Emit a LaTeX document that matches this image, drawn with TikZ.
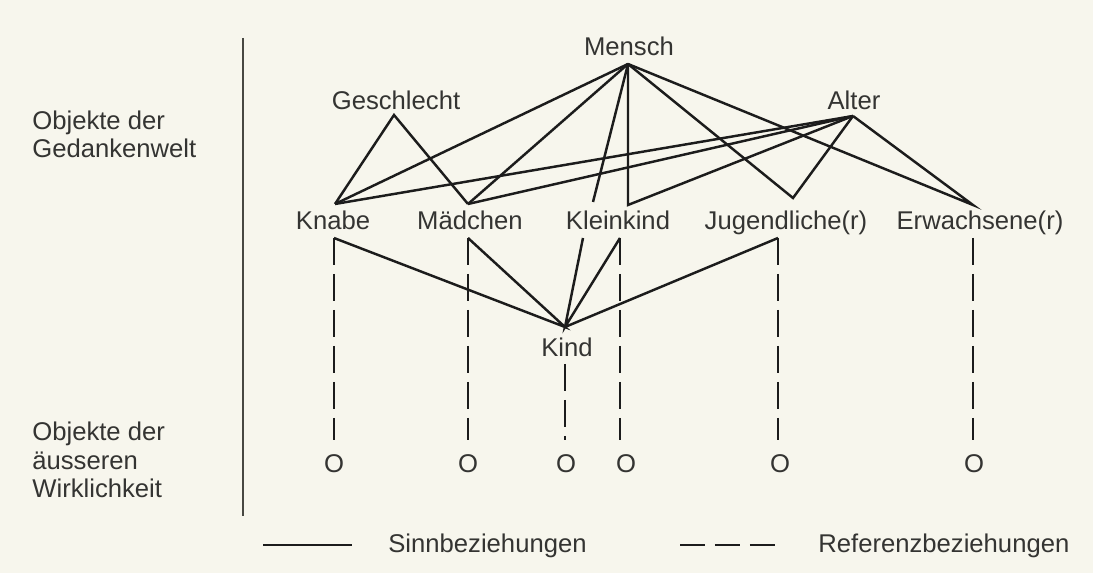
\documentclass[tikz,border=0pt]{standalone}
\usepackage{fontspec}
\setmainfont{Liberation Sans}
\definecolor{bg}{RGB}{247,246,237}
\definecolor{ink}{RGB}{52,52,50}
\definecolor{linec}{RGB}{28,28,28}
\definecolor{axisc}{RGB}{72,72,66}
\begin{document}
\begin{tikzpicture}[x=0.02cm,y=-0.02cm,
  lbl/.style={font=\fontsize{14.6pt}{16.5pt}\selectfont, text=ink, inner sep=0pt, anchor=base},
  side/.style={lbl, anchor=base west, align=left},
  sinn/.style={draw=linec, line width=1.4pt, line join=miter},
  refz/.style={draw=linec, line width=1.4pt, dash pattern=on 0.54cm off 0.18cm},
  axis/.style={draw=axisc, line width=1.2pt}]
\fill[bg] (0,0) rectangle (1093,573);
\useasboundingbox (0,0) rectangle (1093,573);

% left labels and divider (base = baseline of the last line)
\node[side] (gedanken) at (32,158) {Objekte der\\Gedankenwelt};
\node[side] (aussen) at (32,498) {Objekte der\\äusseren\\Wirklichkeit};
\coordinate (axtop) at (243,38);
\coordinate (axbot) at (243,516);
\draw[axis] (axtop) -- (axbot);

% concept labels
\node[lbl] (mensch) at (629,56) {Mensch};
\node[lbl] (geschlecht) at (396,110) {Geschlecht};
\node[lbl] (alter) at (854,110) {Alter};
\node[lbl] (knabe) at (333,230) {Knabe};
\node[lbl] (maedchen) at (470,230) {Mädchen};
\node[lbl] (kleinkind) at (618,230) {Kleinkind};
\node[lbl] (jugend) at (786,230) {Jugendliche(r)};
\node[lbl] (erw) at (980,230) {Erwachsene(r)};
\node[lbl] (kind) at (567,357) {Kind};

% objects
\node[lbl] (o1) at (334,473) {O};
\node[lbl] (o2) at (468,473) {O};
\node[lbl] (o3) at (566,473) {O};
\node[lbl] (o4) at (626,473) {O};
\node[lbl] (o5) at (780,473) {O};
\node[lbl] (o6) at (974,473) {O};

% connection points
\coordinate (M) at (628,64);
\coordinate (G) at (394,115);
\coordinate (A) at (853,116);
\coordinate (Kt) at (335,204);
\coordinate (Kb) at (334,238);
\coordinate (Mt) at (468,204);
\coordinate (Mb) at (468,238);
\coordinate (KKt1) at (593,202);
\coordinate (KKt2) at (628,205);
\coordinate (KKb1) at (583,238);
\coordinate (KKb2) at (620,238);
\coordinate (Jt) at (793,198);
\coordinate (Jb) at (778,238);
\coordinate (Et) at (973,205);
\coordinate (Eb) at (973,238);
\coordinate (Ki) at (565,327);
\coordinate (Kib) at (565,364);
\coordinate (r1) at (334,440);
\coordinate (r2) at (468,440);
\coordinate (r3) at (565,440);
\coordinate (r4) at (620,440);
\coordinate (r5) at (778,440);
\coordinate (r6) at (973,440);

% Sinnbeziehungen
\draw[sinn] (Kt) -- (G) -- (Mt);
\draw[sinn] (M) -- (Kt);
\draw[sinn] (M) -- (Mt);
\draw[sinn] (M) -- (KKt1);
\draw[sinn] (M) -- (KKt2) -- (A);
\draw[sinn] (M) -- (Jt) -- (A);
\draw[sinn] (M) -- (Et) -- (A);
\draw[sinn] (A) -- (Kt);
\draw[sinn] (A) -- (Mt);
\draw[sinn] (Kb) -- (Ki) -- (Mb);
\draw[sinn] (KKb1) -- (Ki) -- (KKb2);
\draw[sinn] (Ki) -- (Jb);

% Referenzbeziehungen
\draw[refz] (Kb) -- (r1);
\draw[refz] (Mb) -- (r2);
\draw[refz] (Kib) -- (r3);
\draw[refz] (KKb2) -- (r4);
\draw[refz] (Jb) -- (r5);
\draw[refz] (Eb) -- (r6);

% legend
\coordinate (ls1) at (263,545);
\coordinate (ls2) at (352,545);
\coordinate (ld1) at (680,545);
\coordinate (ld2) at (776,545);
\draw[sinn] (ls1) -- (ls2);
\draw[draw=linec, line width=1.4pt, dash pattern=on 0.5cm off 0.2cm] (ld1) -- (ld2);
\node[lbl, anchor=base west] (sinnlbl) at (388,553) {Sinnbeziehungen};
\node[lbl, anchor=base west] (reflbl) at (818,553) {Referenzbeziehungen};
\end{tikzpicture}
\end{document}
